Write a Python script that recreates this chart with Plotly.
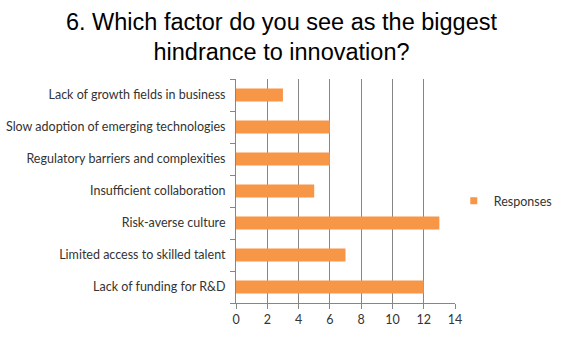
import plotly.graph_objects as go

categories = [
    "Lack of funding for R&D",
    "Limited access to skilled talent",
    "Risk-averse culture",
    "Insufficient collaboration",
    "Regulatory barriers and complexities",
    "Slow adoption of emerging technologies",
    "Lack of growth fields in business",
]
responses = [12, 7, 13, 5, 6, 6, 3]
x_ticks = [0, 2, 4, 6, 8, 10, 12, 14]

title_text = "6. Which factor do you see as the biggest<br>hindrance to innovation?"
series_name = "Responses"
bar_color = "#F79646"

fig = go.Figure()
fig.add_trace(go.Bar(
    y=categories, x=responses, orientation="h", name=series_name,
    marker=dict(color=bar_color, line=dict(width=0)),
    showlegend=False,
))
# legend entry with a small square swatch
fig.add_trace(go.Scatter(
    x=[None], y=[None], mode="markers", name=series_name,
    marker=dict(symbol="square", size=7, color=bar_color),
    showlegend=True, hoverinfo="skip",
))

label_font = dict(family="Lato, 'Open Sans', sans-serif", size=12.5, color="#333333")
axis_gray = "#868686"

fig.update_layout(
    width=563, height=337,
    margin=dict(l=236, r=108, t=79, b=34, autoexpand=False),
    paper_bgcolor="white", plot_bgcolor="white",
    bargap=0.6,
    title=dict(text=title_text, x=0.5, xanchor="center", xref="container",
               y=0.912, yanchor="middle", yref="container",
               font=dict(family="Liberation Sans, Arial, sans-serif", size=23.5, color="#000000")),
    showlegend=True,
    legend=dict(x=0.806, xanchor="left", xref="container",
                y=0.403, yanchor="middle", yref="container",
                font=label_font, bgcolor="rgba(0,0,0,0)", itemwidth=30),
    xaxis=dict(range=[0, 14], tickvals=x_ticks, ticktext=[str(v) for v in x_ticks],
               showgrid=True, gridcolor=axis_gray, gridwidth=1,
               showline=True, linecolor=axis_gray, linewidth=1,
               ticks="outside", ticklen=5, tickcolor=axis_gray,
               tickfont=label_font, zeroline=False, fixedrange=True),
    yaxis=dict(categoryorder="array", categoryarray=categories,
               showline=True, linecolor=axis_gray, linewidth=1,
               ticks="outside", ticklen=5, tickcolor=axis_gray,
               tickson="boundaries", showgrid=False, ticklabelstandoff=7,
               tickfont=label_font, fixedrange=True),
)

fig.write_html("out.html")
